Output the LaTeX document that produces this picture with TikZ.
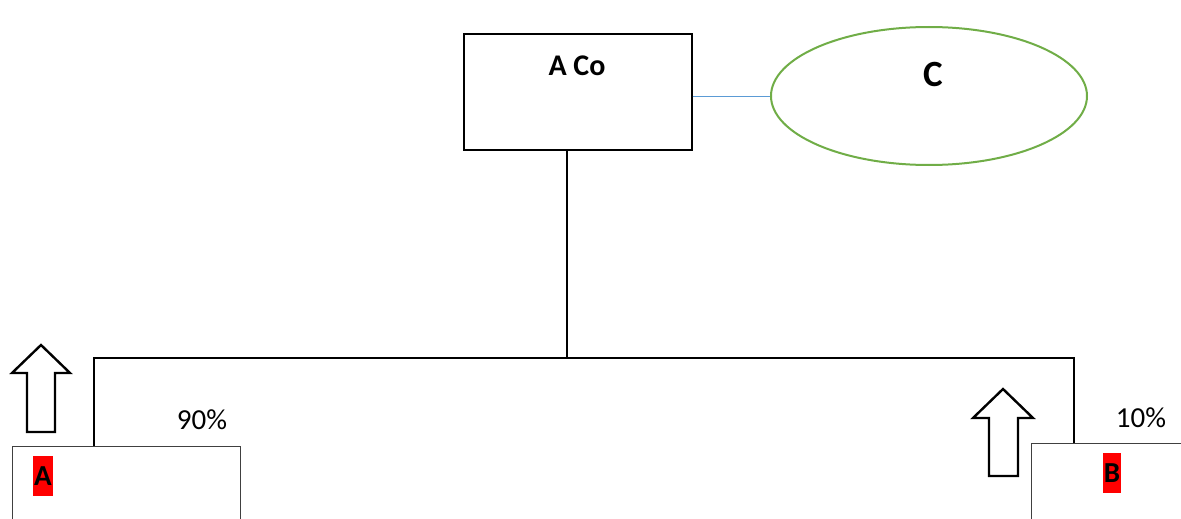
\documentclass[tikz,border=0pt]{standalone}
\usepackage{fontspec}
\setmainfont{Carlito}
\usetikzlibrary{shapes.geometric}
\definecolor{ogreen}{RGB}{112,173,71}
\definecolor{oblue}{RGB}{91,155,213}
\definecolor{boxgray}{RGB}{64,64,64}
\tikzset{
  box/.style={draw=black, line width=1.3pt, minimum width=#1, inner sep=0pt},
  lowbox/.style={draw=boxgray, line width=1.3pt, inner sep=0pt},
  tag/.style={fill=red, inner sep=0pt, minimum width=20pt, minimum height=40pt, font=\fontsize{29}{34}\selectfont\bfseries},
  lbl/.style={anchor=base, inner sep=0pt},
  blockarrow/.style={draw=black, line width=2.4pt, fill=white, line join=miter},
  tree/.style={draw=black, line width=1.2pt}
}
\begin{document}
\begin{tikzpicture}[x=1pt,y=-1pt]
\useasboundingbox (0,0) rectangle (1181,519);
\clip (0,0) rectangle (1181,519);
% top box
\node[box=228pt, minimum height=116pt] (aco) at (578,92) {};
\node[lbl, font=\fontsize{30}{36}\selectfont\bfseries] (acot) at (577,75) {A Co};
% ellipse
\node[ellipse, draw=ogreen, line width=2pt, minimum width=316pt, minimum height=138pt, inner sep=0pt] (c) at (929,96) {};
\node[lbl, font=\fontsize{37}{44}\selectfont\bfseries] (ct) at (933,87) {C};
\draw[oblue, line width=1pt] (aco.east |- c.west) -- (c.west);
% lower boxes
\node[lowbox, minimum width=228pt, minimum height=120pt, anchor=north west] (ba) at (12,446) {};
\node[lowbox, minimum width=200pt, minimum height=120pt, anchor=north west] (bb) at (1031,443) {};
\node[tag] (at) at (43,476) {A};
\node[tag, minimum width=18pt] (bt) at (1112,473) {B};
% tree connectors
\coordinate (j) at (567,358);
\coordinate (l) at (94,358);
\coordinate (r) at (1074,358);
\draw[tree] (aco.south -| j) -- (j);
\draw[tree] (ba.north -| l) -- (l) -- (r) -- (bb.north -| r);
% percentages
\node[lbl, font=\fontsize{29}{34}\selectfont] (p90) at (202,429) {90\%};
\node[lbl, font=\fontsize{29}{34}\selectfont] (p10) at (1141,427) {10\%};
% block arrows
\draw[blockarrow] (41,345) -- (70,373) -- (55,373) -- (55,432) -- (27,432) -- (27,373) -- (12,373) -- cycle;
\draw[blockarrow] (1003,389) -- (1033,418) -- (1018,418) -- (1018,476) -- (989,476) -- (989,418) -- (973,418) -- cycle;
\end{tikzpicture}
\end{document}
